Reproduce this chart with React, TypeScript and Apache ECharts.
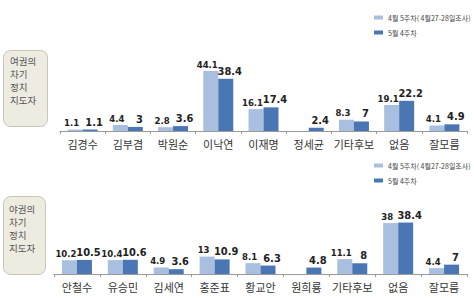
import React, { useEffect, useRef } from "react";
import * as echarts from "echarts";

const topCategories = ["김경수", "김부겸", "박원순", "이낙연", "이재명", "정세균", "기타후보", "없음", "잘모름"];
const topApril = [1.1, 4.4, 2.8, 44.1, 16.1, null, 8.3, 19.1, 4.1];
const topMay = [1.1, 3, 3.6, 38.4, 17.4, 2.4, 7, 22.2, 4.9];

const bottomCategories = ["안철수", "유승민", "김세연", "홍준표", "황교안", "원희룡", "기타후보", "없음", "잘모름"];
const bottomApril = [10.2, 10.4, 4.9, 13, 8.1, null, 11.1, 38, 4.4];
const bottomMay = [10.5, 10.6, 3.6, 10.9, 6.3, 4.8, 8, 38.4, 7];

const seriesNames = ["4월 5주차( 4월27-28일조사)", "5월 4주차"];
const boxTitleTop = ["여권의", "차기", "정치", "지도자"];
const boxTitleBottom = ["야권의", "차기", "정치", "지도자"];

const FONT = "'Noto Sans CJK KR', 'Noto Sans', sans-serif";
const NUMFONT = "'Liberation Sans Narrow', 'DejaVu Sans Condensed', 'Noto Sans', sans-serif";
const LIGHT = "#a9bfdf";
const DARK = "#4a77b4";

export default function App() {
  const ref = useRef<HTMLDivElement>(null);
  useEffect(() => {
    const chart = echarts.init(ref.current!, null, { renderer: "svg" });
    const xAxisBase = {
      type: "category" as const,
      axisLine: { lineStyle: { color: "#9a9a9a", width: 1 } },
      axisTick: { show: true, length: 3, lineStyle: { color: "#9a9a9a" } },
      axisLabel: { color: "#333", fontSize: 11, fontFamily: FONT, margin: 7, interval: 0 },
    };
    const yAxisBase = {
      type: "value" as const,
      min: 0,
      max: 50,
      show: false,
      splitLine: { show: false },
    };
    const mkBar = (
      name: string,
      data: (number | null)[],
      idx: number,
      color: string,
      fs: number,
      dx: number
    ) => ({
      name,
      type: "bar" as const,
      xAxisIndex: idx,
      yAxisIndex: idx,
      data,
      barWidth: 15,
      barGap: "0%",
      itemStyle: { color },
      label: {
        show: true,
        position: "top" as const,
        color: "#222",
        fontSize: fs,
        fontFamily: NUMFONT,
        fontWeight: "bold" as const,
        distance: 2,
        offset: [dx, 0],
      },
    });
    const legendBase = {
      data: seriesNames,
      orient: "vertical" as const,
      left: 369,
      itemWidth: 9,
      itemHeight: 4,
      itemGap: 8,
      icon: "rect",
      textStyle: { fontSize: 7, color: "#444", fontFamily: FONT },
    };
    const boxText = (lines: string[], x: number, y0: number) =>
      lines.map((t, i) => ({
        type: "text",
        left: x,
        top: y0 + i * 13,
        style: { text: t, fill: "#555", fontSize: 9.5, fontFamily: FONT },
      }));
    chart.setOption({
      animation: false,
      backgroundColor: "#ffffff",
      legend: [
        { ...legendBase, top: 9 },
        { ...legendBase, top: 157 },
      ],
      grid: [
        { left: 60, right: 7, top: 63, height: 68 },
        { left: 54, right: 7, top: 207, height: 67 },
      ],
      xAxis: [
        { ...xAxisBase, gridIndex: 0, data: topCategories },
        { ...xAxisBase, gridIndex: 1, data: bottomCategories },
      ],
      yAxis: [
        { ...yAxisBase, gridIndex: 0 },
        { ...yAxisBase, gridIndex: 1 },
      ],
      series: [
        mkBar(seriesNames[0], topApril, 0, LIGHT, 9.5, -3.5),
        mkBar(seriesNames[1], topMay, 0, DARK, 11, 4),
        mkBar(seriesNames[0], bottomApril, 1, LIGHT, 9.5, -3.5),
        mkBar(seriesNames[1], bottomMay, 1, DARK, 11, 4),
      ],
      graphic: [
        {
          type: "rect",
          left: 3,
          top: 50,
          shape: { width: 44, height: 76, r: 7 },
          style: { fill: "#eeebe1", stroke: "#c9c5b8", lineWidth: 1 },
        },
        ...boxText(boxTitleTop, 10, 56),
        {
          type: "rect",
          left: 3,
          top: 196,
          shape: { width: 42, height: 78, r: 7 },
          style: { fill: "#eeebe1", stroke: "#c9c5b8", lineWidth: 1 },
        },
        ...boxText(boxTitleBottom, 9, 204),
      ],
    });
    return () => chart.dispose();
  }, []);
  return <div ref={ref} style={{ position: "fixed", left: 0, top: 0, width: 474, height: 298 }} />;
}
